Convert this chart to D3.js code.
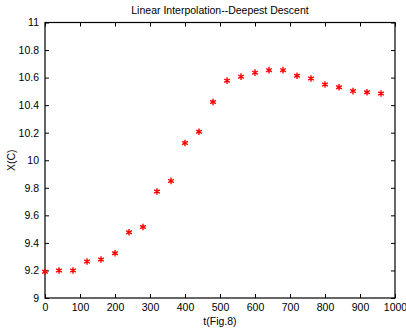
<!DOCTYPE html>
<html>
<head>
<meta charset="utf-8">
<script src="https://cdn.jsdelivr.net/npm/d3@7"></script>
<style>
  body{margin:0;background:#fff}
  svg{display:block;font-family:"Liberation Sans",Arial,sans-serif}
</style>
</head>
<body>
<svg id="chart" width="406" height="334"></svg>
<script>
const tValues = [0, 40, 80, 120, 160, 200, 240, 280, 320, 360, 400, 440, 480,
  520, 560, 600, 640, 680, 720, 760, 800, 840, 880, 920, 960];
const xValues = [9.19, 9.20, 9.20, 9.265, 9.28, 9.325, 9.477, 9.515, 9.773, 9.85, 10.125, 10.207, 10.423,
  10.578, 10.607, 10.636, 10.654, 10.654, 10.613, 10.594, 10.55, 10.53, 10.502, 10.494, 10.485];
const xTicks = [0, 100, 200, 300, 400, 500, 600, 700, 800, 900, 1000];
const yTicks = [9, 9.2, 9.4, 9.6, 9.8, 10, 10.2, 10.4, 10.6, 10.8, 11];

const svg = d3.select('#chart');
const m = { top: 22.5, right: 11, bottom: 36, left: 45 };
const W = 406, H = 334;
const width = W - m.left - m.right;
const height = H - m.top - m.bottom;

const g = svg.append('g').attr('transform', `translate(${m.left},${m.top})`);
const x = d3.scaleLinear().domain([0, 1000]).range([0, width]);
const y = d3.scaleLinear().domain([9, 11]).range([height, 0]);

// axes, ticks pointing inward (matlab style)
const styleAxis = sel => {
  sel.selectAll('.domain').remove();
  sel.selectAll('line').attr('stroke', '#000');
  sel.selectAll('text').attr('fill', '#000').style('font-size', '10.5px')
    .style('font-family', '"Liberation Sans",Arial,sans-serif');
};
g.append('g').attr('transform', `translate(0,${height})`)
  .call(d3.axisBottom(x).tickValues(xTicks).tickSize(-4).tickPadding(6).tickFormat(d3.format('d')))
  .call(styleAxis);
g.append('g')
  .call(d3.axisTop(x).tickValues(xTicks).tickSize(-4).tickFormat(''))
  .call(styleAxis);
g.append('g')
  .call(d3.axisLeft(y).tickValues(yTicks).tickSize(-4).tickPadding(6).tickFormat(d3.format('~g')))
  .call(styleAxis);
g.append('g').attr('transform', `translate(${width},0)`)
  .call(d3.axisRight(y).tickValues(yTicks).tickSize(-4).tickFormat(''))
  .call(styleAxis);

g.append('rect').attr('width', width).attr('height', height)
  .attr('fill', 'none').attr('stroke', '#000').attr('stroke-width', 1.2);

// markers
const star = d3.symbol().type(d3.symbolAsterisk).size(30);
g.selectAll('.pt').data(tValues.map((t, i) => ({ t, v: xValues[i] })))
  .enter().append('path').attr('class', 'pt')
  .attr('transform', d => `translate(${x(d.t)},${y(d.v)})`)
  .attr('d', star)
  .attr('fill', 'none').attr('stroke', '#ff0000').attr('stroke-width', 1.4);

// labels
svg.append('text').attr('x', m.left + width / 2).attr('y', 14)
  .attr('text-anchor', 'middle').style('font-size', '10.5px').text('Linear Interpolation--Deepest Descent');
svg.append('text').attr('x', m.left + width / 2).attr('y', 325)
  .attr('text-anchor', 'middle').style('font-size', '10.5px').text('t(Fig.8)');
svg.append('text').attr('transform', `translate(15,${m.top + height / 2}) rotate(-90)`)
  .attr('text-anchor', 'middle').style('font-size', '10.5px').text('X(C)');
</script>
</body>
</html>
